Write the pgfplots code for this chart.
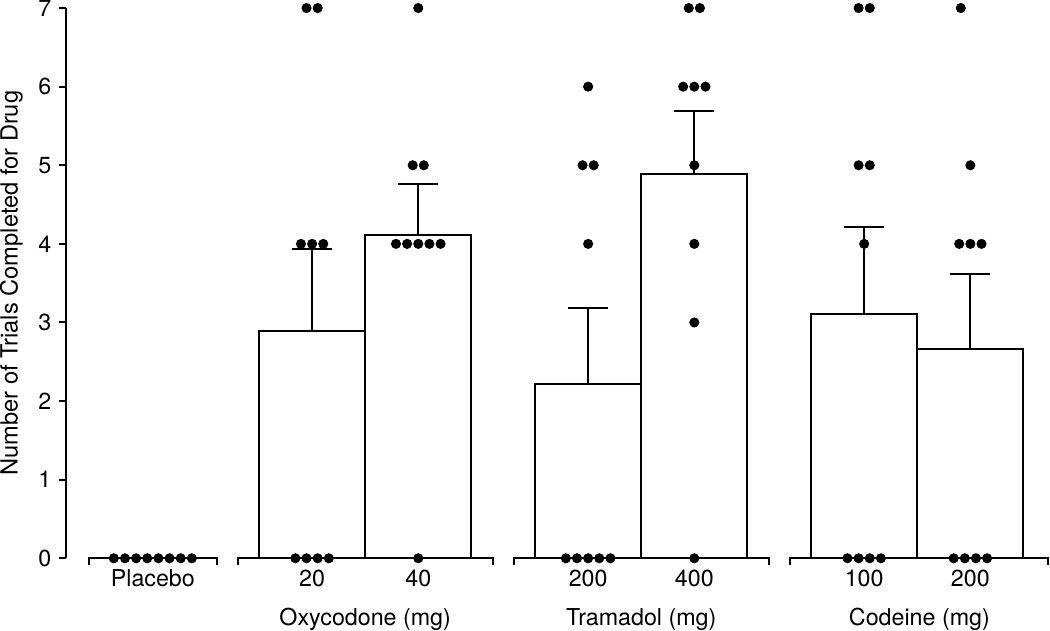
\documentclass[border=0pt]{standalone}
\usepackage{pgfplots}
\pgfplotsset{compat=1.18}
\usepackage{fontspec}
\setmainfont{TeX Gyre Heros}
\newcommand{\lblfont}{\fontsize{11.6}{13}\selectfont}

\begin{document}
\begin{tikzpicture}
\begin{axis}[
  scale only axis, width=491pt, height=274.5pt,
  xmin=-0.82, xmax=8.45, ymin=0, ymax=7,
  axis y line*=left, axis x line*=bottom,
  x axis line style={draw=none},
  y axis line style={-, line width=1pt},
  ytick={0,1,2,3,4,5,6,7},
  xtick={0,1.5,2.5,4.1,5.1,6.7,7.7},
  xticklabels={Placebo,20,40,200,400,100,200},
  major x tick style={draw=none},
  major y tick style={line width=1pt, black},
  tick align=outside, major tick length=3.5pt,
  tick label style={font=\lblfont},
  yticklabel style={inner sep=0pt, xshift=-3.5pt},
  xticklabel style={anchor=base, inner sep=0pt, yshift=-10.4pt},
  /pgf/number format/assume math mode=true,
  ylabel={Number of Trials Completed for Drug},
  every axis y label/.style={at={(axis description cs:0,0.5)}, xshift=-24pt,
    rotate=90, anchor=base, inner sep=0pt, font=\fontsize{11.8}{13}\selectfont},
  clip=false,
]
% bars with SEM
\addplot[ybar, bar width=1, fill=white, draw=black, line width=1pt,
  error bars/.cd, y dir=plus, y explicit,
  error mark options={rotate=90, line width=1pt, mark size=10pt, black},
  error bar style={line width=1pt, black}]
  table[x=x, y=y, y error=e] {
x y e
1.5 2.89 1.05
2.5 4.11 0.65
4.1 2.22 0.96
5.1 4.89 0.80
6.7 3.11 1.10
7.7 2.66 0.96
};
% individual subjects
\addplot[only marks, mark=*, mark size=2.3pt, black] table {
x y
-0.3675 0
-0.2625 0
-0.1575 0
-0.0525 0
0.0525 0
0.1575 0
0.2625 0
0.3675 0
1.4475 7
1.5525 7
1.395 4
1.5 4
1.605 4
1.3425 0
1.4475 0
1.5525 0
1.6575 0
2.5 7
2.4475 5
2.5525 5
2.29 4
2.395 4
2.5 4
2.605 4
2.71 4
2.5 0
4.1 6
4.0475 5
4.1525 5
4.1 4
3.89 0
3.995 0
4.1 0
4.205 0
4.31 0
5.0475 7
5.1525 7
4.995 6
5.1 6
5.205 6
5.1 5
5.1 4
5.1 3
5.1 0
6.6475 7
6.7525 7
6.6475 5
6.7525 5
6.7 4
6.5425 0
6.6475 0
6.7525 0
6.8575 0
7.61 7
7.7 5
7.595 4
7.7 4
7.805 4
7.5425 0
7.6475 0
7.7525 0
7.8575 0
};
% broken x axis segments
\draw[line width=1pt] ([yshift=-3.5pt]axis cs:-0.6,0) -- (axis cs:-0.6,0) -- (axis cs:0.6,0) -- ([yshift=-3.5pt]axis cs:0.6,0);
\draw[line width=1pt] ([yshift=-3.5pt]axis cs:0.8,0) -- (axis cs:0.8,0) -- (axis cs:3.2,0) -- ([yshift=-3.5pt]axis cs:3.2,0);
\draw[line width=1pt] ([yshift=-3.5pt]axis cs:3.4,0) -- (axis cs:3.4,0) -- (axis cs:5.8,0) -- ([yshift=-3.5pt]axis cs:5.8,0);
\draw[line width=1pt] ([yshift=-3.5pt]axis cs:6.0,0) -- (axis cs:6.0,0) -- (axis cs:8.43,0) -- ([yshift=-3.5pt]axis cs:8.43,0);
% group labels
\node[font=\lblfont, anchor=base, inner sep=0pt] at (axis cs:2.0,0) [yshift=-33.5pt] {Oxycodone (mg)};
\node[font=\lblfont, anchor=base, inner sep=0pt] at (axis cs:4.6,0) [yshift=-33.5pt] {Tramadol (mg)};
\node[font=\lblfont, anchor=base, inner sep=0pt] at (axis cs:7.22,0) [yshift=-33.5pt] {Codeine (mg)};
\end{axis}
\end{tikzpicture}
\end{document}
